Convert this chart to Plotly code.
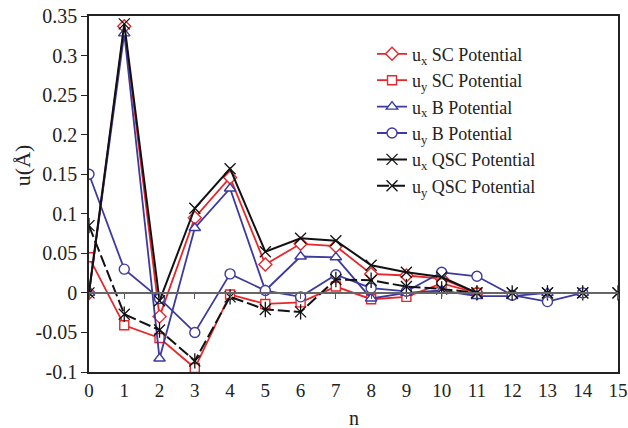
import plotly.graph_objects as go

n_sc = list(range(0, 12))
n_b = list(range(0, 15))
n_qsc = list(range(0, 16))

ux_sc = [0, 0.337, -0.030, 0.095, 0.146, 0.036, 0.062, 0.059, 0.024, 0.022, 0.018, 0.0]
uy_sc = [0.045, -0.041, -0.057, -0.095, -0.002, -0.014, -0.012, 0.008, -0.008, -0.005, 0.012, 0.0]
ux_b = [0, 0.328, -0.083, 0.082, 0.132, 0.003, 0.046, 0.045, -0.007, 0.0, 0.003, -0.004, -0.004, 0.0, 0.0]
uy_b = [0.150, 0.030, -0.007, -0.050, 0.024, 0.003, -0.005, 0.023, 0.006, 0.002, 0.026, 0.021, -0.003, -0.011, 0.0]
ux_qsc = [0, 0.340, -0.010, 0.107, 0.157, 0.052, 0.069, 0.066, 0.035, 0.026, 0.020, 0.0, 0, 0, 0, 0]
uy_qsc = [0.085, -0.027, -0.047, -0.086, -0.005, -0.021, -0.024, 0.017, 0.016, 0.008, 0.005, 0.0, 0, 0, 0, 0]

y_ticks = [-0.1, -0.05, 0, 0.05, 0.1, 0.15, 0.2, 0.25, 0.3, 0.35]
y_labels = ["-0.1", "-0.05", "0", "0.05", "0.1", "0.15", "0.2", "0.25", "0.3", "0.35"]
x_ticks = list(range(0, 16))

RED = "#e8262a"
BLUE = "#3d3a9e"
BLACK = "#111111"
FONT = "Liberation Serif"

fig = go.Figure()

def add(x, y, name, color, symbol, dash="solid", size=9, showlegend=True):
    fig.add_trace(go.Scatter(
        x=x, y=y, name=name, mode="lines+markers",
        line=dict(color=color, width=1.8, dash=dash),
        marker=dict(symbol=symbol, size=size, color="white",
                    line=dict(color=color, width=1.4)),
        showlegend=showlegend,
    ))

add(n_sc, ux_sc, "u<sub>x</sub> SC Potential", RED, "diamond", size=10)
add(n_sc, uy_sc, "u<sub>y</sub> SC Potential", RED, "square", size=9)
add(n_b, ux_b, "u<sub>x</sub> B Potential", BLUE, "triangle-up", size=10)
add(n_b, uy_b, "u<sub>y</sub> B Potential", BLUE, "circle", size=10)
fig.add_trace(go.Scatter(
    x=n_qsc, y=ux_qsc, name="u<sub>x</sub> QSC Potential", mode="lines+markers",
    line=dict(color=BLACK, width=2),
    marker=dict(symbol="x-thin-open", size=11, color=BLACK, line=dict(color=BLACK, width=1.3)),
))
fig.add_trace(go.Scatter(
    x=n_qsc, y=uy_qsc, name="u<sub>y</sub> QSC Potential", mode="lines+markers",
    line=dict(color=BLACK, width=2, dash="12px,4px"),
    marker=dict(symbol="x-thin-open", size=11, color=BLACK, line=dict(color=BLACK, width=1.3)),
))
fig.add_trace(go.Scatter(
    x=n_qsc, y=uy_qsc, mode="markers", showlegend=False, hoverinfo="skip",
    marker=dict(symbol="line-ns-open", size=11, color=BLACK, line=dict(color=BLACK, width=1.3)),
))
# helper trace for zero-line axis
fig.add_trace(go.Scatter(x=[0, 15], y=[0, 0], xaxis="x2", mode="lines",
                         line=dict(color="rgba(0,0,0,0)"), showlegend=False, hoverinfo="skip"))

fig.update_layout(
    width=628, height=428,
    margin=dict(l=89, r=10, t=16, b=56, autoexpand=False),
    paper_bgcolor="white", plot_bgcolor="white",
    font=dict(family=FONT, size=20, color="#222222"),
    showlegend=True,
    legend=dict(x=0.535, y=0.945, xanchor="left", yanchor="top",
                bgcolor="rgba(0,0,0,0)", font=dict(family=FONT, size=18, color="#222222"),
                tracegroupgap=0, itemwidth=30),
    xaxis=dict(range=[0, 15], tickvals=x_ticks, ticks="", showline=True, linecolor="#222222",
               linewidth=1.5, mirror=True, showgrid=False, zeroline=False, automargin=False,
               tickfont=dict(family=FONT, size=19)),
    xaxis2=dict(range=[0, 15], overlaying="x", anchor="free", position=0.1 / 0.45, side="bottom",
                tickvals=x_ticks, ticks="outside", ticklen=5, tickcolor="#555555",
                showticklabels=False, showline=True, linecolor="#666666", linewidth=1.5,
                showgrid=False, zeroline=False, automargin=False),
    yaxis=dict(range=[-0.1, 0.35], tickvals=y_ticks, ticktext=y_labels, ticks="outside",
               ticklen=6, tickcolor="#222222", showline=True, linecolor="#222222", linewidth=1.5,
               mirror=True, showgrid=False, zeroline=False, automargin=False,
               tickfont=dict(family=FONT, size=20)),
    annotations=[
        dict(text="n", xref="paper", yref="paper", x=0.5, y=-0.129, xanchor="center",
             yanchor="middle", showarrow=False, font=dict(family=FONT, size=20, color="#222222")),
        dict(text="u(Å)", xref="paper", yref="paper", x=-0.1267, y=0.581, xanchor="center",
             yanchor="middle", textangle=-90, showarrow=False,
             font=dict(family=FONT, size=22, color="#222222")),
    ],
)

fig.write_html("out.html")
